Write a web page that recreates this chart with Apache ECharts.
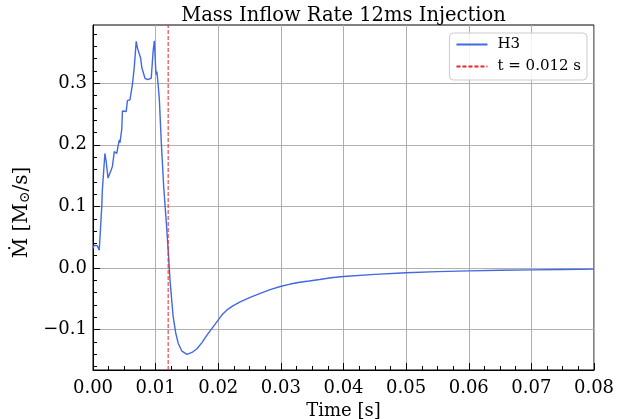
<!DOCTYPE html>
<html>
<head>
<meta charset="utf-8">
<script src="https://cdn.jsdelivr.net/npm/echarts@6/dist/echarts.min.js"></script>
<style>
  html, body { margin: 0; padding: 0; background: #fff; }
  #chart { width: 630px; height: 419px; }
</style>
</head>
<body>
<div id="chart"></div>
<script>
// ---- data ----
const time = [
  0.0000, 0.0002, 0.0005, 0.0007, 0.0010, 0.0012, 0.0014, 0.0015, 0.0019, 0.0021,
  0.0024, 0.0026, 0.0029, 0.0031, 0.0034, 0.0036, 0.0038, 0.0040, 0.0042, 0.0043,
  0.0046, 0.0047, 0.0050, 0.0053, 0.0055, 0.0059, 0.0062, 0.0063, 0.0064, 0.0066,
  0.0069, 0.0071, 0.0073, 0.0076, 0.0078, 0.0080, 0.0083, 0.0084, 0.0087, 0.0089,
  0.0090, 0.0093, 0.0096, 0.0098, 0.0100, 0.0101, 0.0102, 0.0104, 0.0106, 0.0109,
  0.0113, 0.0117, 0.0120, 0.0123, 0.0128, 0.0132, 0.0136, 0.0142, 0.0150, 0.0158,
  0.0166, 0.0174, 0.0182, 0.0190, 0.0198, 0.0206, 0.0214, 0.0224, 0.0235, 0.0250,
  0.0267, 0.0283, 0.0299, 0.0315, 0.0330, 0.0345, 0.0362, 0.0380, 0.0400, 0.0450,
  0.0500, 0.0550, 0.0600, 0.0650, 0.0700, 0.0750, 0.0800
];
const mdot = [
  0.032, 0.037, 0.034, 0.036, 0.029, 0.032, 0.100, 0.127, 0.186, 0.173,
  0.146, 0.148, 0.159, 0.165, 0.189, 0.192, 0.186, 0.198, 0.208, 0.203,
  0.226, 0.255, 0.252, 0.254, 0.272, 0.273, 0.292, 0.298, 0.295, 0.327,
  0.368, 0.357, 0.354, 0.341, 0.325, 0.324, 0.308, 0.311, 0.306, 0.303,
  0.309, 0.308, 0.352, 0.369, 0.325, 0.314, 0.319, 0.298, 0.273, 0.205,
  0.130, 0.075, 0.030, -0.020, -0.079, -0.105, -0.122, -0.135, -0.140, -0.137,
  -0.131, -0.121, -0.109, -0.098, -0.087, -0.076, -0.068, -0.061, -0.055, -0.048,
  -0.041, -0.035, -0.030, -0.026, -0.023, -0.021, -0.0185, -0.0157, -0.0137, -0.0102,
  -0.0076, -0.0058, -0.0046, -0.0037, -0.0030, -0.0023, -0.0018
];
const injectionTime = 0.012;
const seriesName = 'H3';
const markerName = 't = 0.012 s';
const titleText = 'Mass Inflow Rate 12ms Injection';
const xLabelText = 'Time [s]';
const xMin = 0, xMax = 0.08;
const xTickValues = [0, 0.01, 0.02, 0.03, 0.04, 0.05, 0.06, 0.07, 0.08];
const xMinorTickValues = [0.0025, 0.005, 0.0075, 0.0125, 0.015, 0.0175, 0.0225, 0.025, 0.0275,
  0.0325, 0.035, 0.0375, 0.0425, 0.045, 0.0475, 0.0525, 0.055, 0.0575,
  0.0625, 0.065, 0.0675, 0.0725, 0.075, 0.0775];
const yMin = -0.1655, yMax = 0.3945;
const yTickValues = [-0.1, 0.0, 0.1, 0.2, 0.3];
const yMinorTickValues = [-0.16, -0.14, -0.12, -0.08, -0.06, -0.04, -0.02, 0.02, 0.04, 0.06, 0.08,
  0.12, 0.14, 0.16, 0.18, 0.22, 0.24, 0.26, 0.28, 0.32, 0.34, 0.36, 0.38];

// ---- chart ----
const FONT = "'DejaVu Serif', 'Liberation Serif', serif";
const chart = echarts.init(document.getElementById('chart'), null, { renderer: 'canvas' });
const seriesData = time.map((t, i) => [t, mdot[i]]);
const markerData = [[injectionTime, yMin], [injectionTime, yMax]];

const option = {
  animation: false,
  backgroundColor: '#ffffff',
  tooltip: { show: false },
  title: {
    text: titleText,
    left: 338.5,
    top: 1,
    textAlign: 'center',
    textStyle: { fontFamily: FONT, fontSize: 19.5, fontWeight: 'normal', color: '#000' }
  },
  grid: {
    left: 93, right: 36, top: 25, bottom: 49,
    outerBoundsMode: 'none',
    containLabel: false,
    show: true, borderColor: '#000', borderWidth: 1, backgroundColor: 'transparent'
  },
  legend: {
    orient: 'vertical',
    right: 43,
    top: 33,
    itemWidth: 31,
    itemHeight: 10,
    itemGap: 7,
    padding: [4, 6, 6, 6],
    backgroundColor: 'rgba(255,255,255,0.85)',
    borderColor: '#cccccc',
    borderWidth: 1,
    borderRadius: 4,
    itemStyle: { opacity: 0, borderWidth: 0 },
    data: [seriesName, markerName],
    textStyle: { fontFamily: FONT, fontSize: 15, color: '#000', lineHeight: 15, padding: [0, 0, 0, 5] }
  },
  xAxis: [
    {
      type: 'value',
      position: 'bottom',
      min: xMin, max: xMax,
      name: xLabelText,
      nameLocation: 'middle',
      nameGap: 21,
      nameTextStyle: { fontFamily: FONT, fontSize: 18, color: '#000' },
      axisLine: { show: true, onZero: false, lineStyle: { color: '#000', width: 1 } },
      axisTick: { show: true, inside: true, length: 7, customValues: xTickValues, lineStyle: { color: '#000', width: 1 } },
      axisLabel: {
        show: true, margin: 9, customValues: xTickValues,
        fontFamily: FONT, fontSize: 18, color: '#000',
        formatter: v => v.toFixed(2)
      },
      splitLine: { show: false },
      minorTick: { show: false },
      minorSplitLine: { show: false }
    },
    {
      type: 'value',
      position: 'bottom',
      offset: 0,
      min: xMin, max: xMax,
      axisLine: { show: false, onZero: false },
      axisTick: { show: true, inside: true, length: 4, customValues: xMinorTickValues, lineStyle: { color: '#000', width: 1 } },
      axisLabel: { show: false },
      splitLine: { show: false }
    },
    {
      type: 'value',
      position: 'top',
      offset: 0,
      min: xMin, max: xMax,
      axisLine: { show: false, onZero: false },
      axisTick: { show: false, customValues: xTickValues },
      axisLabel: { show: false },
      splitLine: { show: true, lineStyle: { color: '#b0b0b0', width: 1 } }
    }
  ],
  yAxis: [
    {
      type: 'value',
      position: 'left',
      min: yMin, max: yMax,
      name: '{a|Ṁ [M}{b|⊙}{a|/s]}',
      nameLocation: 'middle',
      nameRotate: 90,
      nameGap: 52,
      nameTextStyle: {
        padding: [0, 30, 0, 0],
        rich: {
          a: { fontFamily: FONT, fontSize: 20, color: '#000', lineHeight: 22 },
          b: { fontFamily: FONT, fontSize: 14, color: '#000', verticalAlign: 'bottom', lineHeight: 14, padding: [7, 0, 0, 0] }
        }
      },
      axisLine: { show: true, onZero: false, lineStyle: { color: '#000', width: 1 } },
      axisTick: { show: true, inside: true, length: 7, customValues: yTickValues, lineStyle: { color: '#000', width: 1 } },
      axisLabel: {
        show: true, margin: 6, customValues: yTickValues,
        fontFamily: FONT, fontSize: 18, color: '#000',
        formatter: v => (v < -1e-9 ? '\u2212' : '') + Math.abs(v).toFixed(1)
      },
      splitLine: { show: true, lineStyle: { color: '#b0b0b0', width: 1 } }
    },
    {
      type: 'value',
      position: 'left',
      offset: 0,
      min: yMin, max: yMax,
      axisLine: { show: false, onZero: false },
      axisTick: { show: true, inside: true, length: 4, customValues: yMinorTickValues, lineStyle: { color: '#000', width: 1 } },
      axisLabel: { show: false },
      splitLine: { show: false }
    }
  ],
  series: [
    {
      name: seriesName,
      type: 'line',
      xAxisIndex: 0, yAxisIndex: 0,
      data: seriesData,
      showSymbol: false,
      symbol: 'none',
      smooth: false,
      lineStyle: { color: '#4169e1', width: 1.4 },
      itemStyle: { color: '#4169e1' },
      z: 3
    },
    {
      name: markerName,
      type: 'line',
      xAxisIndex: 0, yAxisIndex: 0,
      data: markerData,
      showSymbol: false,
      symbol: 'none',
      silent: true,
      lineStyle: { color: '#e8242b', width: 1, type: [4, 2] },
      itemStyle: { color: '#e8242b' },
      z: 4
    }
  ]
};
chart.setOption(option);
</script>
</body>
</html>
